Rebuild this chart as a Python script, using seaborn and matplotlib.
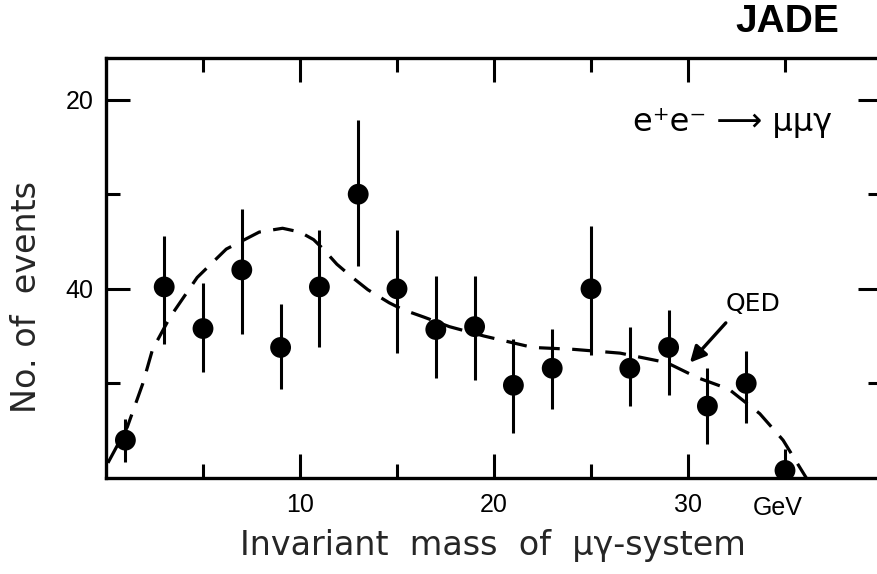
import matplotlib
matplotlib.use("Agg")
import matplotlib.pyplot as plt
import pandas as pd
import seaborn as sns

mass_gev = [1, 3, 5, 7, 9, 11, 13, 15, 17, 19, 21, 23, 25, 27, 29, 31, 33, 35]
n_events = [2.0, 10.1, 7.9, 11.0, 6.9, 10.1, 15.0, 10.0, 7.85, 8.0,
            4.9, 5.8, 10.0, 5.8, 6.9, 3.8, 5.0, 0.4]
err_hi = [3.1, 12.8, 10.3, 14.2, 9.2, 13.1, 18.9, 13.1, 10.7, 10.7,
          7.35, 7.9, 13.3, 8.0, 8.9, 5.8, 6.7, 1.55]
err_lo = [0.85, 7.1, 5.6, 7.6, 4.7, 6.9, 11.2, 6.6, 5.3, 5.2,
          2.4, 3.65, 6.5, 3.8, 4.4, 1.8, 2.9, 0.4]

# QED expectation (dashed curve)
qed_mass = [0.1, 1.1, 1.9, 2.4, 3.3, 4.7, 6.2, 7.9, 9.1, 10.0, 10.7, 11.2,
            11.9, 12.7, 13.5, 14.6, 15.3, 16.4, 17.7, 19.5, 22.0, 24.1,
            26.5, 28.9, 30.5, 32.1, 33.7, 34.9, 36.1]
qed_events = [0.8, 2.7, 5.0, 6.8, 8.5, 10.6, 12.1, 13.0, 13.2, 13.0, 12.6,
              12.1, 11.3, 10.6, 9.95, 9.26, 8.9, 8.5, 8.0, 7.5, 6.9, 6.8,
              6.6, 6.1, 5.3, 4.7, 3.4, 2.0, 0.0]

x_major = [10, 20, 30]
x_minor = [5, 15, 25, 35]
x_labels = ["10", "20", "30"]
y_major = [10, 20]
y_minor = [5, 15]
y_labels = ["40", "20"]   # as printed on the scan

sns.set_theme(style="ticks")
plt.rcParams["font.family"] = ["Liberation Sans", "DejaVu Sans"]

pts = pd.DataFrame({"mass": mass_gev, "events": n_events})
qed = pd.DataFrame({"mass": qed_mass, "events": qed_events})

fig = plt.figure(figsize=(8.78, 5.74), dpi=100)
ax = fig.add_axes([106 / 878, 96 / 574, 776 / 878, 420 / 574])

sns.lineplot(data=qed, x="mass", y="events", sort=False, estimator=None,
             color="black", linewidth=2.3, ax=ax, zorder=2)
ax.lines[-1].set_dashes((6.5, 3.9))

ax.vlines(mass_gev, err_lo, err_hi, color="black", linewidth=2.2, zorder=3)
sns.scatterplot(data=pts, x="mass", y="events", s=225, color="black",
                edgecolor="none", ax=ax, zorder=4)

ax.set_xlim(0, 40)
ax.set_ylim(0, 22.2)

ax.set_xticks(x_major)
ax.set_xticklabels(x_labels)
ax.set_xticks(x_minor, minor=True)
ax.set_yticks(y_major)
ax.set_yticklabels(y_labels)
ax.set_yticks(y_minor, minor=True)
ax.tick_params(which="both", direction="in", top=True, right=True,
               width=2.2, color="black", labelsize=18, labelcolor="black")
ax.tick_params(which="major", length=17)
ax.tick_params(which="minor", length=10)
ax.tick_params(axis="x", pad=11)
ax.tick_params(axis="y", pad=9)

for sp in ax.spines.values():
    sp.set_linewidth(2.4)
    sp.set_color("black")

ax.set_xlabel("Invariant  mass  of  μγ-system", fontsize=24,
              family=["DejaVu Sans"], va="center")
ax.xaxis.set_label_coords(0.499, -0.16)
ax.set_ylabel("No. of  events", fontsize=24, family=["DejaVu Sans"],
              va="center")
ax.yaxis.set_label_coords(-0.102, 0.431)

ax.text(34.6, -0.072, "GeV", transform=ax.get_xaxis_transform(),
        ha="center", va="center", fontsize=18, color="black")

ax.text(32.3, 18.8, "e⁺e⁻ ⟶ μμγ", ha="center", va="center", fontsize=23,
        family=["DejaVu Sans", "Noto Sans"], color="black")
ax.text(33.35, 9.2, "QED", ha="center", va="center", fontsize=18,
        family=["DejaVu Sans"], color="black")
ax.annotate("", xy=(30.1, 6.1), xytext=(31.95, 8.2),
            arrowprops=dict(arrowstyle="-|>", color="black", lw=2.4,
                            mutation_scale=24, shrinkA=0, shrinkB=0))

fig.text(787 / 878, 1 - 22 / 574, "JADE", ha="center", va="center",
         fontsize=28, fontweight="bold", color="black")

fig.savefig("out.png", dpi=100, facecolor="white")
